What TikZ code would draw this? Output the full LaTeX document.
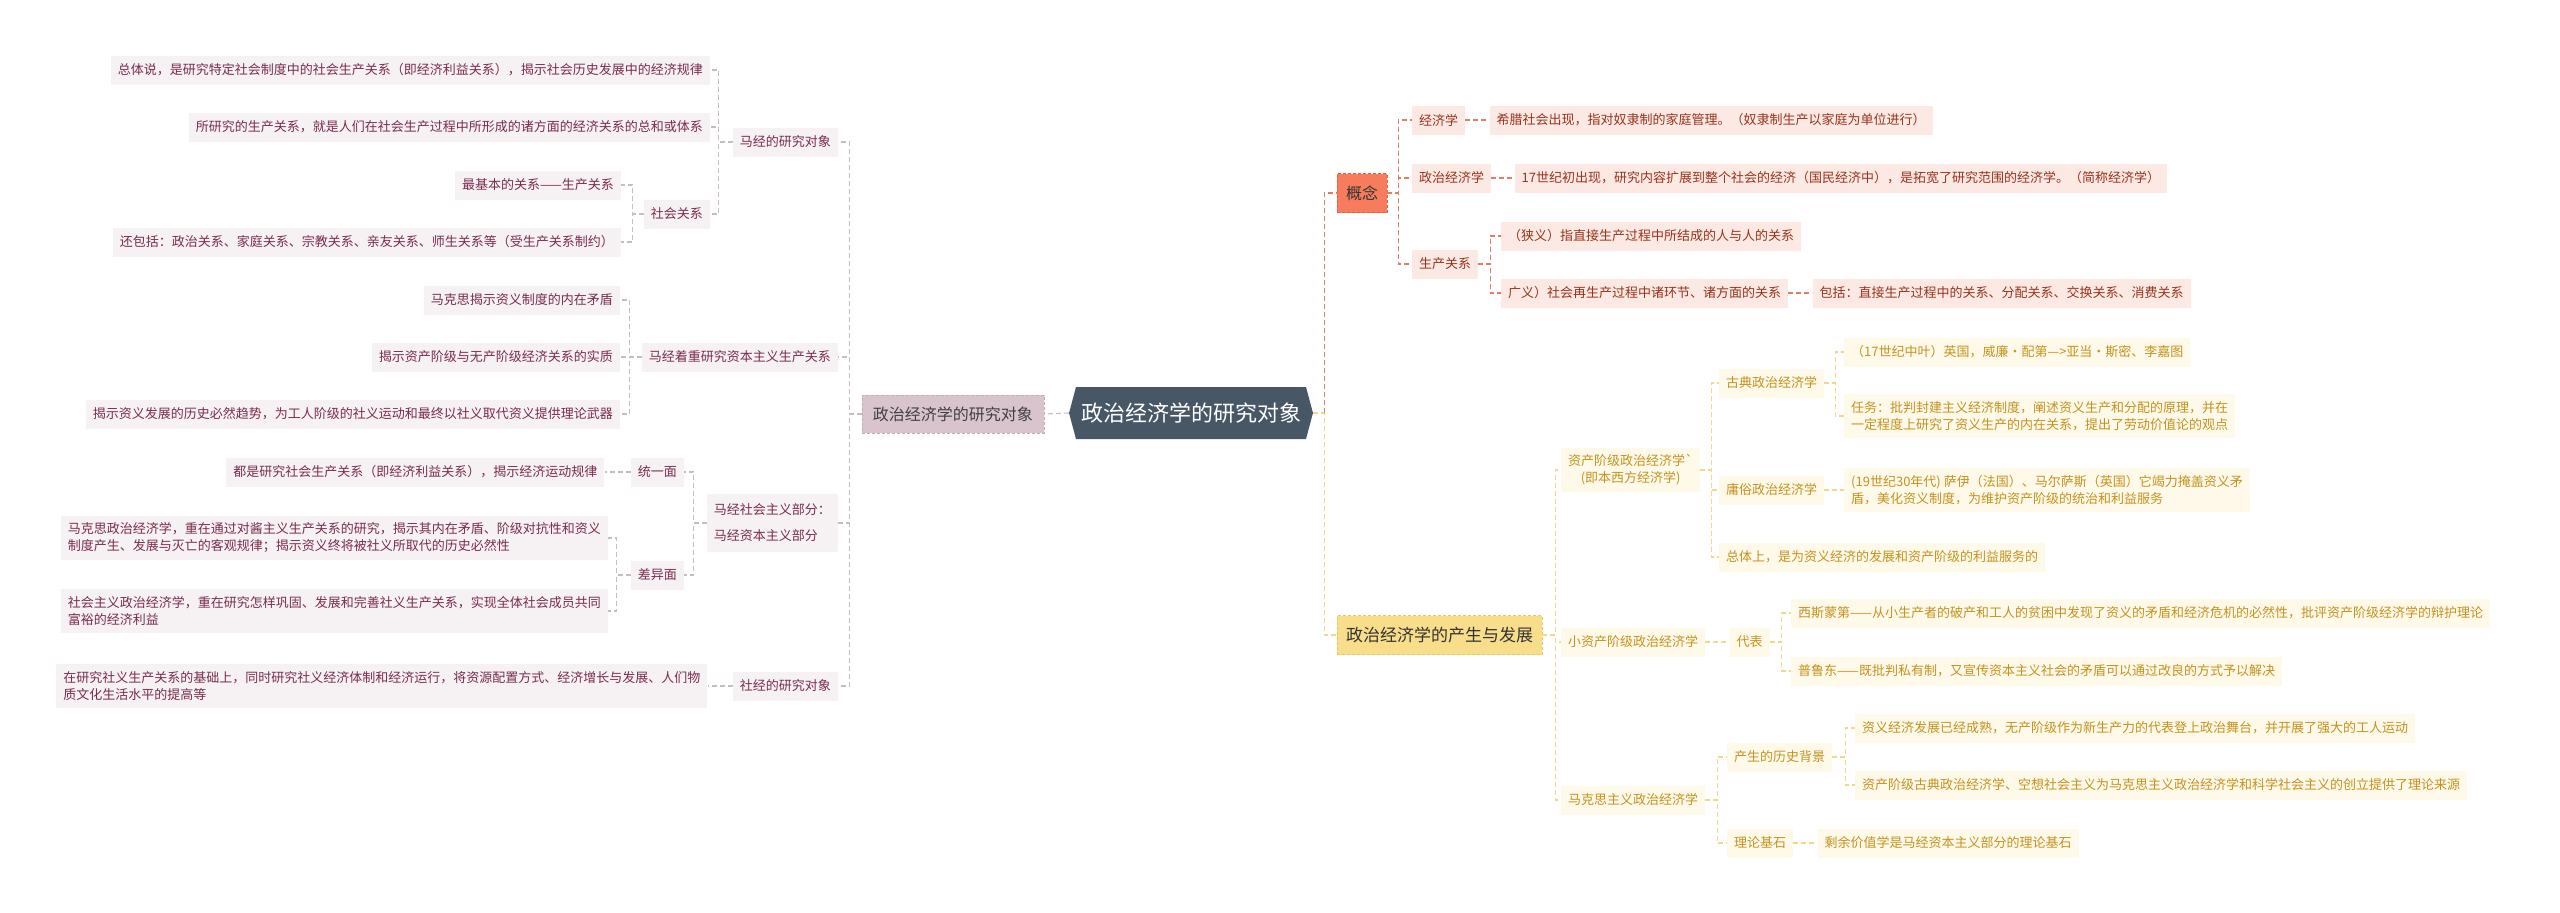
\documentclass[tikz,border=0pt]{standalone}
\usepackage{fontspec}
\usepackage{tikz}
\usetikzlibrary{shapes,arrows,positioning}
\newfontfamily\cjk{Noto Sans CJK SC}
\definecolor{rootcol}{RGB}{72,87,102}
\definecolor{lfill}{RGB}{246,241,243}
\definecolor{ltext}{RGB}{122,44,80}
\definecolor{lcol}{RGB}{196,190,194}
\definecolor{lmfill}{RGB}{217,196,205}
\definecolor{lmdraw}{RGB}{196,172,183}
\definecolor{gnfill}{RGB}{247,124,94}
\definecolor{gndraw}{RGB}{222,96,70}
\definecolor{rfill}{RGB}{253,233,227}
\definecolor{rtext}{RGB}{150,52,28}
\definecolor{rcol}{RGB}{228,122,98}
\definecolor{fzfill}{RGB}{248,221,138}
\definecolor{fzdraw}{RGB}{236,198,98}
\definecolor{yfill}{RGB}{254,249,233}
\definecolor{ytext}{RGB}{196,146,30}
\definecolor{ycol}{RGB}{241,214,140}

\begin{document}
\begin{tikzpicture}[
  x=1pt, y=-1pt,
  every node/.style={font=\cjk\fontsize{13}{17}\selectfont, inner xsep=7pt, inner ysep=7pt,
    minimum height=29pt, align=left},
  lbox/.style={fill=lfill, text=ltext, anchor=east},
  rbox/.style={fill=rfill, text=rtext, anchor=west},
  ybox/.style={fill=yfill, text=ytext, anchor=west},
  lcon/.style={draw=lcol, line width=1.1pt, dash pattern=on 5pt off 3pt},
  rcon/.style={draw=rcol, line width=1.1pt, dash pattern=on 5pt off 3pt},
  ycon/.style={draw=ycol, line width=1.1pt, dash pattern=on 5pt off 3pt},
  rootbox/.style={signal, signal to=west and east, signal pointer angle=150, fill=rootcol,
    text=white, font=\cjk\fontsize{22}{26}\selectfont, minimum height=52pt, inner xsep=5pt},
]
\fill[white] (0,0) rectangle (2560,913);
\useasboundingbox (0,0) rectangle (2560,913);

\node[rootbox] (root) at (1191,413) {政治经济学的研究对象};

\node[fill=lmfill, draw=lmdraw, dash pattern=on 3pt off 2pt, text=black!75, anchor=east,
  font=\cjk\fontsize{16}{20}\selectfont, minimum height=38pt, inner xsep=11pt]
  (lmain) at (1044,414) {政治经济学的研究对象};

\node[lbox] (b1) at (838,142) {马经的研究对象};
\node[lbox] (b2) at (838,357) {马经着重研究资本主义生产关系};
\node[lbox, inner ysep=10pt] (b3) at (838,523) {马经社会主义部分：\\[9pt]马经资本主义部分};
\node[lbox] (b4) at (838,686) {社经的研究对象};
\node[lbox] (a1) at (710,70) {总体说，是研究特定社会制度中的社会生产关系（即经济利益关系），揭示社会历史发展中的经济规律};
\node[lbox] (a2) at (710,127) {所研究的生产关系，就是人们在社会生产过程中所形成的诸方面的经济关系的总和或体系};
\node[lbox] (c1) at (710,214) {社会关系};
\node[lbox] (a3) at (621,185) {最基本的关系——生产关系};
\node[lbox] (a4) at (621,242) {还包括：政治关系、家庭关系、宗教关系、亲友关系、师生关系等（受生产关系制约）};
\node[lbox] (d1) at (620,300) {马克思揭示资义制度的内在矛盾};
\node[lbox] (d2) at (620,357) {揭示资产阶级与无产阶级经济关系的实质};
\node[lbox] (d3) at (620,414) {揭示资义发展的历史必然趋势，为工人阶级的社义运动和最终以社义取代资义提供理论武器};
\node[lbox] (f1) at (684,472) {统一面};
\node[lbox] (f2) at (684,575) {差异面};
\node[lbox, left=26pt of f1] (e1) {都是研究社会生产关系（即经济利益关系），揭示经济运动规律};
\node[lbox] (e2) at (608,538) {马克思政治经济学，重在通过对酱主义生产关系的研究，揭示其内在矛盾、阶级对抗性和资义\\制度产生、发展与灭亡的客观规律；揭示资义终将被社义所取代的历史必然性};
\node[lbox] (e3) at (608,611) {社会主义政治经济学，重在研究怎样巩固、发展和完善社义生产关系，实现全体社会成员共同\\富裕的经济利益};
\node[lbox, left=25pt of b4] (e4) {在研究社义生产关系的基础上，同时研究社义经济体制和经济运行，将资源配置方式、经济增长与发展、人们物\\质文化生活水平的提高等};

\node[fill=gnfill, draw=gndraw, dash pattern=on 3pt off 2pt, text=black!80, anchor=west,
  font=\cjk\fontsize{16}{20}\selectfont, minimum height=39pt, inner xsep=9pt]
  (gainian) at (1337,193) {概念};
\node[fill=fzfill, draw=fzdraw, dash pattern=on 3pt off 2pt, text=black!80, anchor=west,
  font=\cjk\fontsize{17}{21}\selectfont, minimum height=39pt, inner xsep=9pt]
  (fazhan) at (1337,635) {政治经济学的产生与发展};

\node[rbox] (g1) at (1412,120) {经济学};
\node[rbox, right=24pt of g1] (h1) {希腊社会出现，指对奴隶制的家庭管理。（奴隶制生产以家庭为单位进行）};
\node[rbox] (g2) at (1412,178) {政治经济学};
\node[rbox, right=23pt of g2] (h2) {17世纪初出现，研究内容扩展到整个社会的经济（国民经济中），是拓宽了研究范围的经济学。（简称经济学）};
\node[rbox] (g3) at (1412,264) {生产关系};
\node[rbox] (h3) at (1501,236) {（狭义）指直接生产过程中所结成的人与人的关系};
\node[rbox] (h4) at (1501,293) {广义）社会再生产过程中诸环节、诸方面的关系};
\node[rbox, right=24pt of h4] (i1) {包括：直接生产过程中的关系、分配关系、交换关系、消费关系};

\node[ybox, align=center] (j1) at (1561,470) {资产阶级政治经济学\textasciigrave\\(即本西方经济学)};
\node[ybox] (k1) at (1561,642) {小资产阶级政治经济学};
\node[ybox] (l1) at (1561,800) {马克思主义政治经济学};
\node[ybox] (m1) at (1719,383) {古典政治经济学};
\node[ybox] (m2) at (1719,490) {庸俗政治经济学};
\node[ybox] (m3) at (1719,557) {总体上，是为资义经济的发展和资产阶级的利益服务的};
\node[ybox] (n1) at (1844,352) {（17世纪中叶）英国，威廉·配第—>亚当·斯密、李嘉图};
\node[ybox] (n2) at (1844,416) {任务：批判封建主义经济制度，阐述资义生产和分配的原理，并在\\一定程度上研究了资义生产的内在关系，提出了劳动价值论的观点};
\node[ybox] (n3) at (1844,490) {(19世纪30年代) 萨伊（法国）、马尔萨斯（英国）它竭力掩盖资义矛\\盾，美化资义制度，为维护资产阶级的统治和利益服务};
\node[ybox, right=24pt of k1] (o1) {代表};
\node[ybox] (p1) at (1791,613) {西斯蒙第——从小生产者的破产和工人的贫困中发现了资义的矛盾和经济危机的必然性，批评资产阶级经济学的辩护理论};
\node[ybox] (p2) at (1791,671) {普鲁东——既批判私有制，又宣传资本主义社会的矛盾可以通过改良的方式予以解决};
\node[ybox] (q1) at (1727,757) {产生的历史背景};
\node[ybox] (q2) at (1727,843) {理论基石};
\node[ybox] (r1) at (1855,728) {资义经济发展已经成熟，无产阶级作为新生产力的代表登上政治舞台，并开展了强大的工人运动};
\node[ybox] (r2) at (1855,785) {资产阶级古典政治经济学、空想社会主义为马克思主义政治经济学和科学社会主义的创立提供了理论来源};
\node[ybox, right=24pt of q2] (r3) {剩余价值学是马经资本主义部分的理论基石};

\draw[lcon] (root.west) -- (lmain.east);
\foreach \c in {b1,b2,b3,b4}
  \draw[lcon] (lmain.west) -- ++(-12,0) |- (\c.east);
\foreach \c in {a1,a2,c1}
  \draw[lcon] (b1.west) -- ++(-14,0) |- (\c.east);
\foreach \c in {a3,a4}
  \draw[lcon] (c1.west) -- ++(-11,0) |- (\c.east);
\foreach \c in {d1,d2,d3}
  \draw[lcon] (b2.west) -- ++(-12,0) |- (\c.east);
\foreach \c in {f1,f2}
  \draw[lcon] (b3.west) -- ++(-13,0) |- (\c.east);
\draw[lcon] (f1.west) -- (e1.east);
\foreach \c in {e2,e3}
  \draw[lcon] (f2.west) -- ++(-14,0) |- (\c.east);
\draw[lcon] (b4.west) -- (e4.east);

\draw[ycon] (root.east) -- ++(11,0) |- (fazhan.west);
\draw[rcon] ([xshift=11pt]root.east) |- (gainian.west);
\foreach \c in {g1,g2,g3}
  \draw[rcon] (gainian.east) -- ++(11,0) |- (\c.west);
\draw[rcon] (g1.east) -- (h1.west);
\draw[rcon] (g2.east) -- (h2.west);
\foreach \c in {h3,h4}
  \draw[rcon] (g3.east) -- ++(12,0) |- (\c.west);
\draw[rcon] (h4.east) -- (i1.west);
\foreach \c in {j1,k1,l1}
  \draw[ycon] (fazhan.east) -- ++(13,0) |- (\c.west);
\foreach \c in {m1,m2,m3}
  \draw[ycon] (j1.east) -- ++(11,0) |- (\c.west);
\foreach \c in {n1,n2}
  \draw[ycon] (m1.east) -- ++(11,0) |- (\c.west);
\draw[ycon] (m2.east) -- (n3.west);
\draw[ycon] (k1.east) -- (o1.west);
\foreach \c in {p1,p2}
  \draw[ycon] (o1.east) -- ++(12,0) |- (\c.west);
\foreach \c in {q1,q2}
  \draw[ycon] (l1.east) -- ++(12,0) |- (\c.west);
\foreach \c in {r1,r2}
  \draw[ycon] (q1.east) -- ++(13,0) |- (\c.west);
\draw[ycon] (q2.east) -- (r3.west);
\end{tikzpicture}
\end{document}
